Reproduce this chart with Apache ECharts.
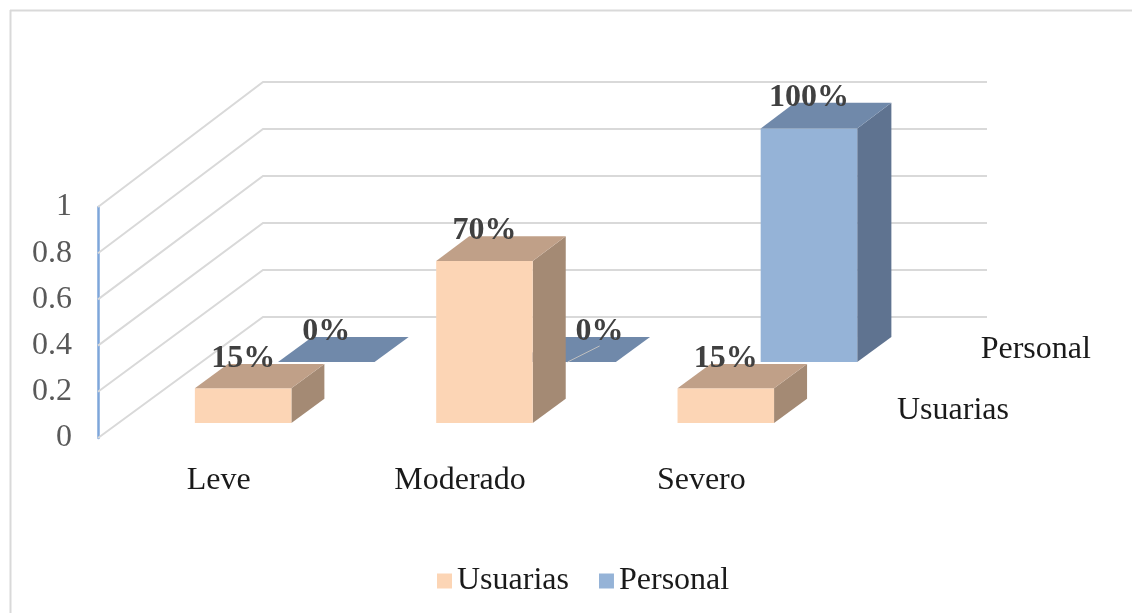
<!DOCTYPE html>
<html>
<head>
<meta charset="utf-8">
<script src="https://cdn.jsdelivr.net/npm/echarts@6/dist/echarts.min.js"></script>
<style>
    html, body { margin: 0; padding: 0; background: #fff; }
    #chartData { width: 1132px; height: 613px; }
</style>
</head>
<body>
<div id="chartData"></div>
<script>
// 数据
var categories = ['Leve', 'Moderado', 'Severo'];
var usuarias = [0.15, 0.70, 0.15];
var personal = [0, 0, 1];
var yTicks = [0, 0.2, 0.4, 0.6, 0.8, 1];
var seriesNames = ['Usuarias', 'Personal'];

// 3D 投影参数 (斜投影)
var DX = 165, DY = -121, PERSP = 0.017, SHIFT = 4;
var serif = '"Liberation Serif", "Times New Roman", serif';

var rows = {
    Usuarias: {t0: 0.124, t1: 0.324, front: '#FCD5B5', top: '#C0A088', side: '#A48A74'},
    Personal: {t0: 0.628, t1: 0.835, front: '#95B3D7', top: '#7089AA', side: '#5F7390'}
};
// 标签避让
var labelNudge = {'Personal-1': 32};

function toData(arr) {
    return arr.map(function (v, i) { return [i, v]; });
}

var barRenderer = function (name) {
    var row = rows[name];
    return function (params, api) {
        var idx = api.value(0), v = api.value(1);
        var base = api.coord([idx, 0]);
        var peak = api.coord([idx, v]);
        var band = api.size([1, 0])[0];
        var w = band * 0.4;
        var h = base[1] - peak[1];
        var pt = function (t, f, up) {
            return [base[0] + SHIFT - w / 2 + f * w + DX * t, base[1] + DY * t - up * (1 + PERSP * t)];
        };
        var t0 = row.t0, t1 = row.t1;
        var children = [];
        if (h > 0) {
            children.push({type: 'polygon', shape: {points: [pt(t0, 1, 0), pt(t1, 1, 0), pt(t1, 1, h), pt(t0, 1, h)]},
                style: {fill: row.side}});
            children.push({type: 'polygon', shape: {points: [pt(t0, 0, 0), pt(t0, 1, 0), pt(t0, 1, h), pt(t0, 0, h)]},
                style: {fill: row.front}});
        }
        children.push({type: 'polygon', shape: {points: [pt(t0, 0, h), pt(t0, 1, h), pt(t1, 1, h), pt(t1, 0, h)]},
            style: {fill: row.top}});

        var nudge = labelNudge[name + '-' + idx] || 0;
        var lx = pt(t0, 0.5, h)[0] + nudge;
        var ly = pt(t1, 0.5, h)[1] - 5;
        if (nudge) {
            var p = pt(t0, 0.5, 0);
            children.push({type: 'line', shape: {x1: p[0], y1: p[1], x2: lx, y2: ly + 14},
                style: {stroke: '#BFBFBF', lineWidth: 1}});
        }
        children.push({type: 'text', style: {
            text: Math.round(v * 100) + '%', x: lx, y: ly, align: 'center', verticalAlign: 'middle',
            font: 'bold 32px ' + serif, fill: '#404040'
        }});

        // 深度轴标签 (系列名)
        if (idx === categories.length - 1) {
            var cs = params.coordSys;
            var tm = (t0 + t1) / 2;
            children.push({type: 'text', style: {
                text: name, x: cs.x + cs.width + DX * tm + 38, y: base[1] + DY * tm,
                align: 'left', verticalAlign: 'middle', font: '32px ' + serif, fill: '#1a1a1a'
            }});
        }
        return {type: 'group', children: children};
    };
};

var wallRenderer = function (params, api) {
    var v = api.value(1);
    var cs = params.coordSys;
    var y0 = api.coord([0, 0])[1];
    var yf = api.coord([0, v])[1];
    var h = y0 - yf;
    var yb = y0 + DY - h * (1 + PERSP);
    return {
        type: 'polyline',
        shape: {points: [[cs.x, yf], [cs.x + DX, yb], [cs.x + cs.width + DX, yb]]},
        style: {stroke: '#D9D9D9', lineWidth: 2, fill: null}
    };
};

var myChart = echarts.init(document.getElementById('chartData'));

var option = {
    animation: false,
    grid: {left: 98, right: 310, top: 207, bottom: 175},
    legend: {
        data: seriesNames,
        left: 432,
        top: 560,
        icon: 'rect',
        itemWidth: 15,
        itemHeight: 15,
        itemGap: 30,
        textStyle: {fontFamily: serif, fontSize: 32, color: '#1a1a1a'}
    },
    xAxis: {
        type: 'category',
        data: categories,
        axisLine: {show: false},
        axisTick: {show: false},
        splitLine: {show: false},
        axisLabel: {margin: 27, fontFamily: serif, fontSize: 32, color: '#1a1a1a'}
    },
    yAxis: {
        type: 'value',
        min: 0,
        max: 1,
        interval: 0.2,
        axisLine: {show: true, lineStyle: {color: '#7EA6DA', width: 2.5}},
        axisTick: {show: false},
        splitLine: {show: false},
        axisLabel: {margin: 26, fontFamily: serif, fontSize: 32, color: '#595959'}
    },
    graphic: [
        {type: 'line', shape: {x1: 10, y1: 10.5, x2: 1132, y2: 10.5}, style: {stroke: '#D9D9D9', lineWidth: 2}},
        {type: 'line', shape: {x1: 10.5, y1: 10, x2: 10.5, y2: 613}, style: {stroke: '#D9D9D9', lineWidth: 2}}
    ],
    series: [
        {
            name: 'walls',
            type: 'custom',
            renderItem: wallRenderer,
            clip: false,
            silent: true,
            z: 1,
            data: yTicks.map(function (v) { return [0, v]; })
        },
        {
            name: 'Personal',
            type: 'custom',
            renderItem: barRenderer('Personal'),
            clip: false,
            z: 2,
            itemStyle: {color: '#95B3D7'},
            data: toData(personal)
        },
        {
            name: 'Usuarias',
            type: 'custom',
            renderItem: barRenderer('Usuarias'),
            clip: false,
            z: 3,
            itemStyle: {color: '#FCD5B5'},
            data: toData(usuarias)
        }
    ]
};

myChart.setOption(option);
</script>
</body>
</html>
